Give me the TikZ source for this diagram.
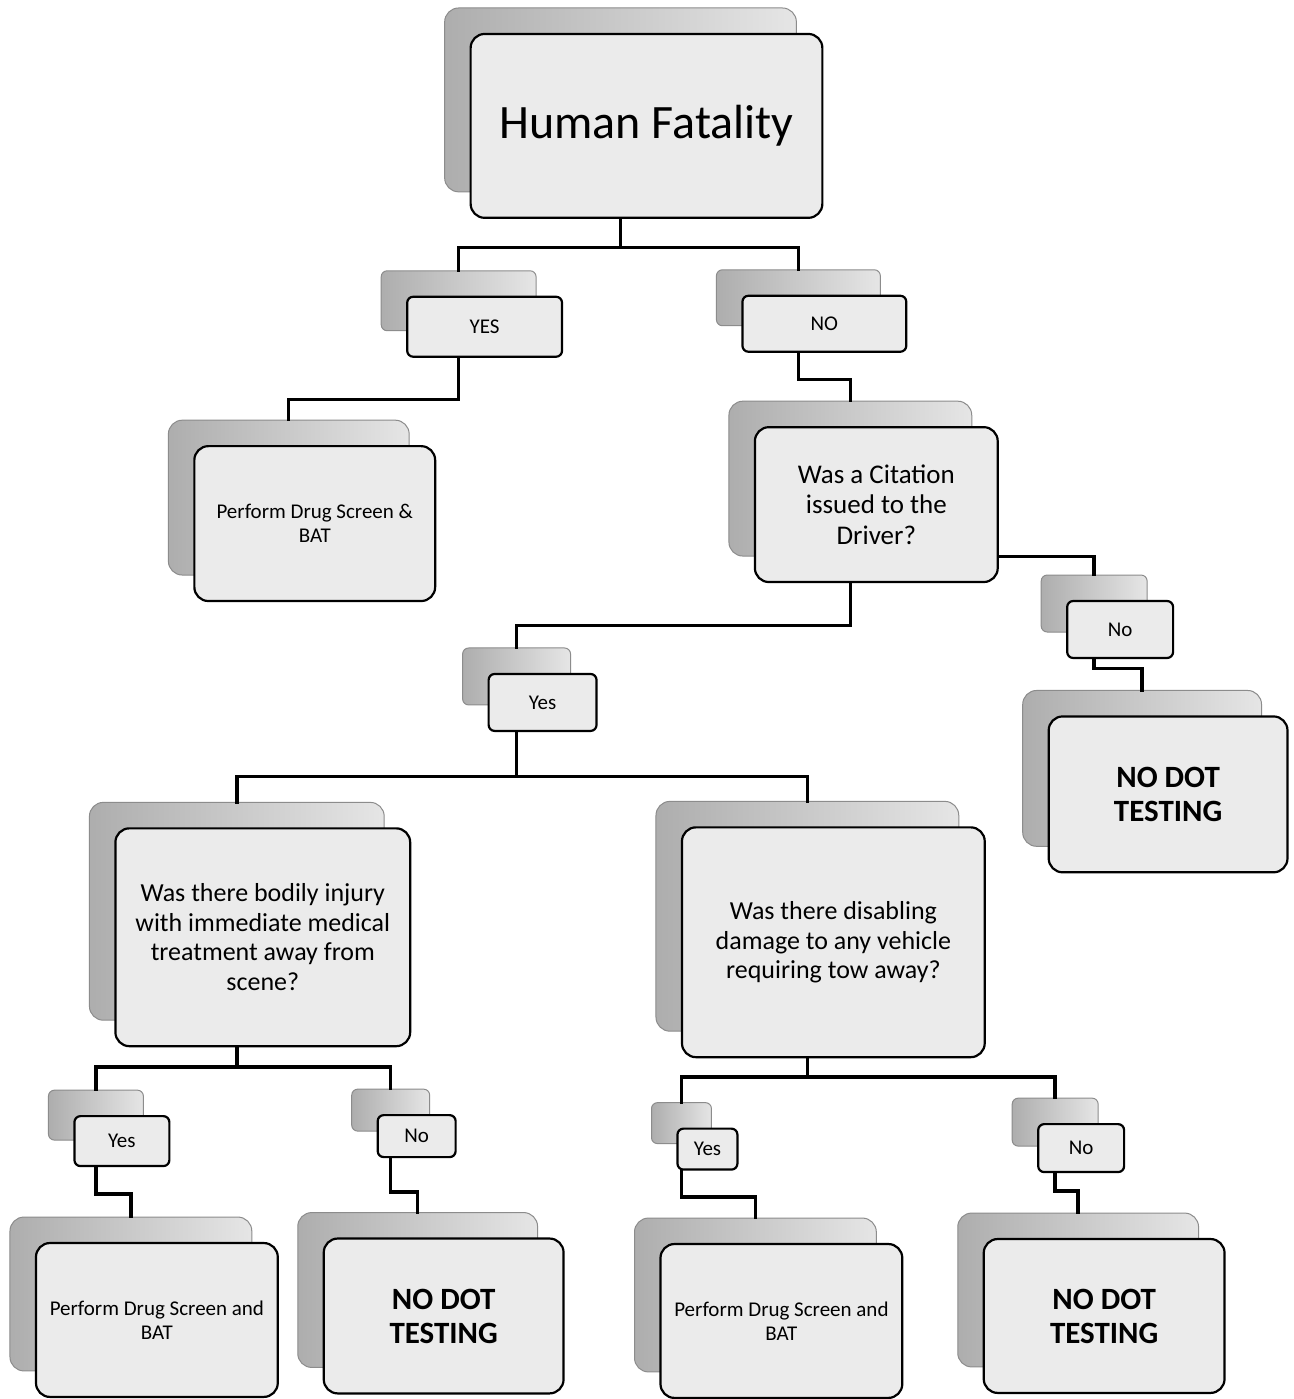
\documentclass[tikz,border=0pt]{standalone}
\usepackage{fontspec}
\setmainfont{Carlito}

\tikzset{
  backbox/.style={draw=black!45, line width=0.5pt, rounded corners=7pt, left color=black!32, middle color=black!13, right color=black!10, inner sep=0pt},
  frontbox/.style={draw=black, line width=1.1pt, rounded corners=7pt, fill=black!8, align=center, inner sep=2pt},
  tiny/.style={rounded corners=3pt},
  link/.style={draw=black, line width=1.7pt, line cap=rect},
  bigtxt/.style={font=\fontsize{24}{28}\selectfont},
  asktxt/.style={font=\fontsize{13}{14.8}\selectfont},
  donetxt/.style={font=\bfseries\fontsize{15.5}{17}\selectfont},
  acttxt/.style={font=\fontsize{10.5}{12}\selectfont},
  yntxt/.style={font=\fontsize{10.5}{12}\selectfont}
}

\begin{document}
\begin{tikzpicture}[x=0.5pt, y=-0.5pt]
\path[fill=white] (0,0) rectangle (1295,1399);

% first question
\node[backbox, minimum width=176pt, minimum height=92pt] (fatalB) at (621,100) {};
\node[frontbox, bigtxt, minimum width=176pt, minimum height=92pt] (fatal) at (647,126) {Human Fatality};

% answers to the first question
\node[backbox, tiny, minimum width=77.5pt, minimum height=30pt] (yesaB) at (459,301) {};
\node[frontbox, tiny, yntxt, minimum width=77.5pt, minimum height=30pt] (yesa) at (485,327) {YES};
\node[backbox, tiny, minimum width=82pt, minimum height=28pt] (noaB) at (799,298) {};
\node[frontbox, tiny, yntxt, minimum width=82pt, minimum height=28pt] (noa) at (825,324) {NO};

\node[backbox, minimum width=120.5pt, minimum height=77.5pt] (drugaB) at (289,498) {};
\node[frontbox, acttxt, minimum width=120.5pt, minimum height=77.5pt] (druga) at (315,524) {Perform Drug Screen \&\\BAT};

% citation
\node[backbox, minimum width=121.5pt, minimum height=77.5pt] (citeB) at (851,479) {};
\node[frontbox, asktxt, font=\fontsize{13.5}{15.3}\selectfont, minimum width=121.5pt, minimum height=77.5pt] (cite) at (877,505) {Was a Citation\\issued to the\\Driver?};

\node[backbox, tiny, minimum width=53pt, minimum height=28.5pt] (nobB) at (1095,604) {};
\node[frontbox, tiny, yntxt, minimum width=53pt, minimum height=28.5pt] (nob) at (1121,630) {No};
\node[backbox, minimum width=119.5pt, minimum height=78pt] (nodotaB) at (1143,769) {};
\node[frontbox, donetxt, minimum width=119.5pt, minimum height=78pt] (nodota) at (1169,795) {NO DOT\\TESTING};

\node[backbox, tiny, minimum width=54pt, minimum height=28.5pt] (yesbB) at (517,677) {};
\node[frontbox, tiny, yntxt, minimum width=54pt, minimum height=28.5pt] (yesb) at (543,703) {Yes};

% injury and damage
\node[backbox, minimum width=147.5pt, minimum height=109pt] (bodilyB) at (237,912) {};
\node[frontbox, asktxt, minimum width=147.5pt, minimum height=109pt] (bodily) at (263,938) {Was there bodily injury\\with immediate medical\\treatment away from\\scene?};
\node[backbox, minimum width=151.5pt, minimum height=115pt] (damageB) at (808,917) {};
\node[frontbox, asktxt, minimum width=151.5pt, minimum height=115pt] (damage) at (834,943) {Was there disabling\\damage to any vehicle\\requiring tow away?};

% bottom row
\node[backbox, tiny, minimum width=47.5pt, minimum height=25pt] (yescB) at (96,1116) {};
\node[frontbox, tiny, yntxt, minimum width=47.5pt, minimum height=25pt] (yesc) at (122,1142) {Yes};
\node[backbox, tiny, minimum width=39pt, minimum height=21pt] (nocB) at (391,1111) {};
\node[frontbox, tiny, yntxt, minimum width=39pt, minimum height=21pt] (noc) at (417,1137) {No};
\node[backbox, tiny, minimum width=30pt, minimum height=20.5pt] (yesdB) at (682,1124) {};
\node[frontbox, tiny, yntxt, minimum width=30pt, minimum height=20.5pt] (yesd) at (708,1150) {Yes};
\node[backbox, tiny, minimum width=43pt, minimum height=24pt] (nodB) at (1056,1123) {};
\node[frontbox, tiny, yntxt, minimum width=43pt, minimum height=24pt] (nod) at (1082,1149) {No};

\node[backbox, minimum width=121pt, minimum height=77pt] (drugbB) at (131,1295) {};
\node[frontbox, acttxt, minimum width=121pt, minimum height=77pt] (drugb) at (157,1321) {Perform Drug Screen and\\BAT};
\node[backbox, minimum width=120pt, minimum height=77.5pt] (nodotbB) at (418,1291) {};
\node[frontbox, donetxt, minimum width=120pt, minimum height=77.5pt] (nodotb) at (444,1317) {NO DOT\\TESTING};
\node[backbox, minimum width=121pt, minimum height=77pt] (drugcB) at (756,1296) {};
\node[frontbox, acttxt, minimum width=121pt, minimum height=77pt] (drugc) at (782,1322) {Perform Drug Screen and\\BAT};
\node[backbox, minimum width=120.5pt, minimum height=77pt] (nodotcB) at (1079,1291) {};
\node[frontbox, donetxt, minimum width=120.5pt, minimum height=77pt] (nodotc) at (1105,1317) {NO DOT\\TESTING};

% connectors
\draw[link] (fatalB |- fatal.south) -- (fatalB |- 0,248);
\draw[link] (yesaB.north) |- (fatalB |- 0,248) -| (noaB.north);
\draw[link] (yesaB |- yesa.south) -- (yesaB |- 0,400) -| (drugaB.north);
\draw[link] (noaB |- noa.south) -- (noaB |- 0,380) -| (citeB.north);
\draw[link] (cite.east |- 0,557) -| (nobB.north);
\draw[link] (nobB |- nob.south) -- (nobB |- 0,669) -| (nodotaB.north);
\draw[link] (citeB |- cite.south) -- (citeB |- 0,626) -| (yesbB.north);
\draw[link] (yesbB |- yesb.south) -- (yesbB |- 0,777);
\draw[link] (bodilyB.north) |- (yesbB |- 0,777) -| (damageB.north);
\draw[link] (bodilyB |- bodily.south) -- (bodilyB |- 0,1068);
\draw[link] (yescB.north) |- (bodilyB |- 0,1068) -| (nocB.north);
\draw[link] (damageB |- damage.south) -- (damageB |- 0,1078);
\draw[link] (yesdB.north) |- (damageB |- 0,1078) -| (nodB.north);
\draw[link] (yescB |- yesc.south) -- (yescB |- 0,1195) -| (drugbB.north);
\draw[link] (nocB |- noc.south) -- (nocB |- 0,1193) -| (nodotbB.north);
\draw[link] (yesdB |- yesd.south) -- (yesdB |- 0,1198) -| (drugcB.north);
\draw[link] (nodB |- nod.south) -- (nodB |- 0,1192) -| (nodotcB.north);
\end{tikzpicture}
\end{document}
